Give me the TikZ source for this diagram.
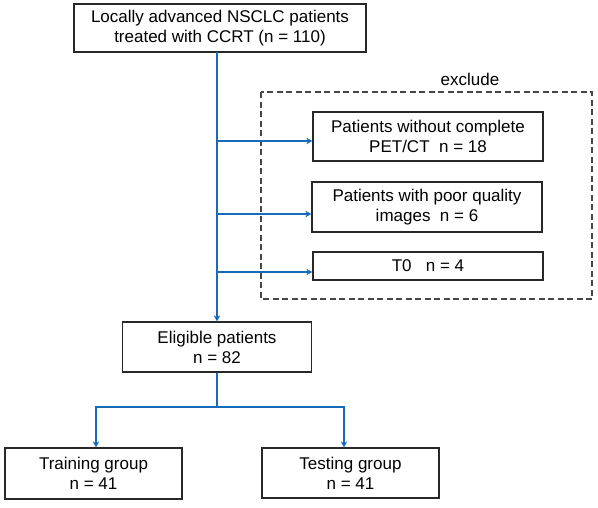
\documentclass[tikz,border=0pt]{standalone}
\usepackage{fontspec}
\setmainfont{Liberation Sans}
\usetikzlibrary{arrows.meta,positioning}
\definecolor{flowblue}{RGB}{22,108,185}
\definecolor{boxline}{RGB}{40,40,40}
\definecolor{dashgray}{RGB}{70,70,70}
\tikzset{
  fbox/.style={draw=boxline,line width=1.3pt,align=center,inner sep=0pt,
    font=\fontsize{17}{20}\selectfont,text=black},
  flow/.style={draw=flowblue,line width=2.5pt},
  arr/.style={flow,-{Stealth[length=6pt,width=6.5pt]}},
  dashbox/.style={draw=dashgray,line width=1.2pt,dash pattern=on 6pt off 3.5pt},
}
\begin{document}
\begin{tikzpicture}[x=1pt,y=-1pt]
\useasboundingbox (0,0) rectangle (598,507);
\node[fbox,minimum width=292pt,minimum height=48pt] (top) at (220,28)
  {Locally advanced NSCLC patients\\treated with CCRT (n = 110)};
\draw[dashbox] (261,92) rectangle (592,299);
\node[font=\fontsize{17}{20}\selectfont] (excl) at (470,79) {exclude};
\node[fbox,minimum width=230pt,minimum height=49pt] (b1) at (428,136.5)
  {Patients without complete\\PET/CT\ \ n = 18};
\node[fbox,minimum width=230pt,minimum height=50pt] (b2) at (427,207)
  {Patients with poor quality\\images\ \ n = 6};
\node[fbox,minimum width=230pt,minimum height=28pt] (b3) at (428,266)
  {T0\ \ \ n = 4};
\node[fbox,minimum width=189pt,minimum height=50pt] (elig) at (217,347)
  {Eligible patients\\n = 82};
\node[fbox,minimum width=177pt,minimum height=51pt] (tr) at (93.5,473.5)
  {Training group\\n = 41};
\node[fbox,minimum width=177pt,minimum height=50pt] (te) at (350.5,473)
  {Testing group\\n = 41};
\coordinate (t0) at (217,52);
\coordinate (j1) at (217,141);
\coordinate (j2) at (217,214);
\coordinate (j3) at (217,272);
\coordinate (sl) at (96,407);
\coordinate (sr) at (344,407);
\draw[arr] (t0) -- (elig.north);
\draw[arr] (j1) -- (j1 -| b1.west);
\draw[arr] (j2) -- (j2 -| b2.west);
\draw[arr] (j3) -- (j3 -| b3.west);
\draw[arr] (elig.south) |- (sl) -- (sl |- tr.north);
\draw[arr] (elig.south) |- (sr) -- (sr |- te.north);
\end{tikzpicture}
\end{document}
